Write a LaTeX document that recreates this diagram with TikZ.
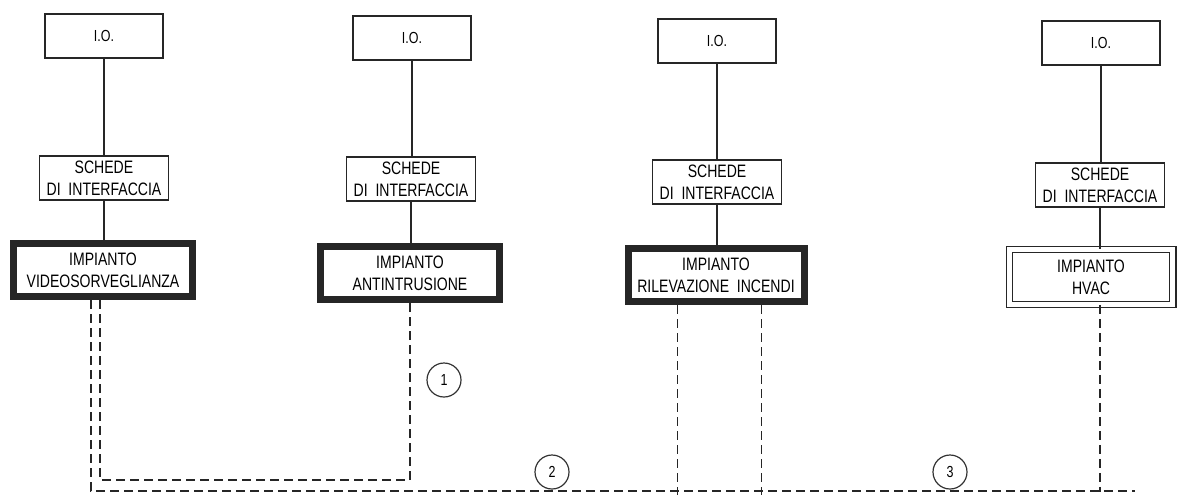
\documentclass[tikz,border=0pt]{standalone}
\usepackage{fontspec}
\setmainfont{Liberation Sans}[FakeStretch=0.78]
\usepackage{xcolor}
\usepackage{tikz}
\usetikzlibrary{calc}

\begin{document}
\begin{tikzpicture}[x=0.5pt, y=-0.5pt,
    thinbox/.style={draw=black!85, line width=0.75pt, inner sep=0pt, align=center, font=\fontsize{9}{11}\selectfont},
    iobox/.style={thinbox, minimum width=59pt, minimum height=22pt, font=\fontsize{8}{9}\selectfont},
    schede/.style={thinbox, minimum width=64.5pt, minimum height=22pt},
    impianto/.style={thinbox, line width=3.5pt, minimum width=89.5pt, minimum height=26.5pt},
    hvac/.style={thinbox, double, double distance=2.5pt, line width=0.6pt, minimum width=81.8pt, minimum height=27.3pt},
    badge/.style={circle, draw=black!80, line width=0.6pt, minimum size=17pt, inner sep=0pt, font=\fontsize{8}{8}\selectfont},
    wire/.style={draw=black!85, line width=0.75pt},
    cable/.style={draw=black!85, line width=0.75pt, dash pattern=on 4.5pt off 2.5pt}]
\useasboundingbox (0,0) rectangle (1181,495);

\node[iobox] (IO1) at (104, 36) {I.O.};
\node[iobox] (IO2) at (412, 38) {I.O.};
\node[iobox] (IO3) at (717, 41) {I.O.};
\node[iobox] (IO4) at (1101, 43) {I.O.};

\node[schede] (SC1) at (104, 178) {SCHEDE\\DI~~INTERFACCIA};
\node[schede] (SC2) at (411, 179) {SCHEDE\\DI~~INTERFACCIA};
\node[schede] (SC3) at (717, 182) {SCHEDE\\DI~~INTERFACCIA};
\node[schede] (SC4) at (1100, 185) {SCHEDE\\DI~~INTERFACCIA};

\node[impianto] (IM1) at (103, 270) {IMPIANTO\\VIDEOSORVEGLIANZA};
\node[impianto] (IM2) at (410, 273) {IMPIANTO\\ANTINTRUSIONE};
\node[impianto, minimum width=88pt] (IM3) at (716, 275) {IMPIANTO\\RILEVAZIONE~~INCENDI};
\node[hvac] (IM4) at (1091, 277) {IMPIANTO\\HVAC};

\begin{scope}[every node/.style=badge]
    \node (n1) at (444, 380) {1};
    \node (n2) at (552, 472) {2};
    \node (n3) at (950, 472) {3};
\end{scope}

\draw[wire] (IO1.south) -- (IO1.south |- SC1.north) (SC1.south) -- (SC1.south |- IM1.north);
\draw[wire] (IO2.south) -- (IO2.south |- SC2.north) (SC2.south) -- (SC2.south |- IM2.north);
\draw[wire] (IO3.south) -- (IO3.south |- SC3.north) (SC3.south) -- (SC3.south |- IM3.north);
\draw[wire] (IO4.south) -- (IO4.south |- SC4.north) (SC4.south) -- (SC4.south |- IM4.north);

\coordinate (busend) at (1135, 491);
\begin{scope}[cable]
    \draw ([xshift=-1.5pt]IM1.south) -- ++(0,180) -| (IM2.south);
    \draw ([xshift=-6pt]IM1.south) |- (busend);
    \draw ([xshift=-19.25pt]IM3.south) -- ++(0,190);
    \draw ([xshift=22.75pt]IM3.south) -- ++(0,190);
    \draw ([xshift=4.5pt]IM4.south) -- ++(0,187);
\end{scope}
\end{tikzpicture}
\end{document}
